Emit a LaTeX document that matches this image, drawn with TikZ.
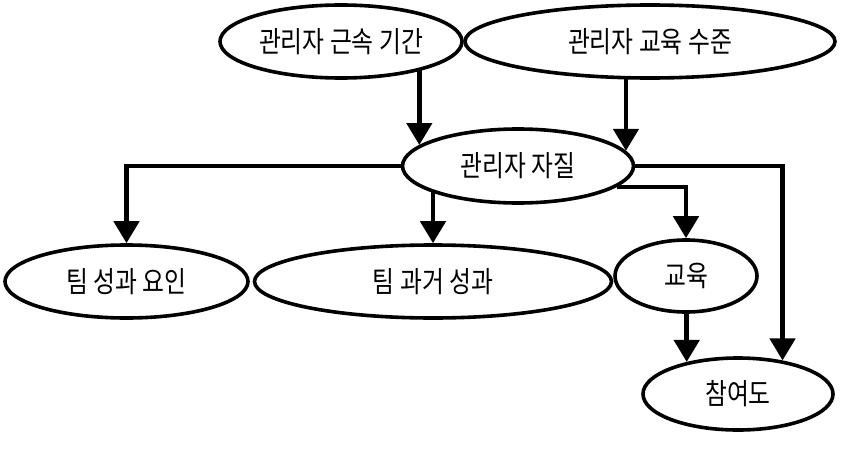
\documentclass[tikz,border=0pt]{standalone}
\usepackage{fontspec}
\newfontfamily\kr[FakeStretch=0.82]{Noto Sans CJK KR}
\usetikzlibrary{shapes.geometric,arrows.meta,backgrounds}
\begin{document}
\begin{tikzpicture}[x=1pt,y=-1pt,
  oval/.style={ellipse,draw=black,line width=3.6pt,fill=white,inner sep=0pt,
    font=\kr\fontsize{29}{32}\selectfont},
  conn/.style={line width=4.6pt,draw=black},
  arr/.style={conn,-{Triangle[length=22pt,width=25pt]}}]
\useasboundingbox (0,0) rectangle (850,460);
\node[oval,minimum width=242pt,minimum height=73pt] (gun) at (341,41.5) {관리자 근속 기간};
\node[oval,minimum width=370pt,minimum height=73pt] (gyo) at (650,41.5) {관리자 교육 수준};
\node[oval,minimum width=231pt,minimum height=74pt] (jaja) at (518,166) {관리자 자질};
\node[oval,minimum width=243pt,minimum height=73pt] (team) at (126.5,281.5) {팀 성과 요인};
\node[oval,minimum width=357pt,minimum height=73pt] (past) at (433,281.5) {팀 과거 성과};
\node[oval,minimum width=142pt,minimum height=72pt] (edu) at (686,276) {교육};
\node[oval,minimum width=190pt,minimum height=72pt] (cham) at (738,394) {참여도};
\begin{scope}[on background layer]
  \draw[arr] (jaja.168.5 |- gun.center) -- (jaja.168.5);
  \draw[arr] (jaja.8.45 |- gyo.center) -- (jaja.8.45);
  \draw[arr] (jaja.center) -| (team.north);
  \draw[arr] (past.north |- jaja.center) -- (past.north);
  \draw[arr] (jaja.-12.8) -| (edu.north);
  \draw[arr] (jaja.center) -| (cham.37.4);
  \draw[arr] (cham.148.5 |- edu.center) -- (cham.148.5);
\end{scope}
\end{tikzpicture}
\end{document}
